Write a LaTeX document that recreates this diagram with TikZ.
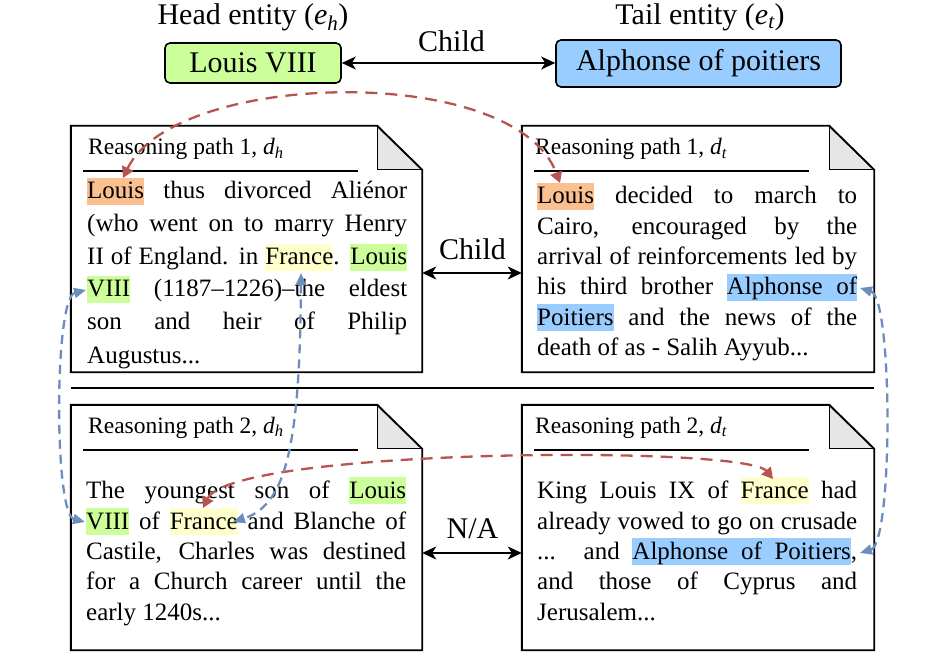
\documentclass[tikz,border=0pt]{standalone}
\usepackage{fontspec}
\setmainfont{Liberation Serif}
\usepackage{amsmath}
\usetikzlibrary{arrows.meta}
\definecolor{hlgreen}{RGB}{204,255,153}
\definecolor{hlblue}{RGB}{153,204,255}
\definecolor{hlorange}{RGB}{250,192,143}
\definecolor{hlyellow}{RGB}{255,255,204}
\definecolor{linkred}{RGB}{184,84,80}
\definecolor{linkblue}{RGB}{108,142,191}
\definecolor{foldgray}{RGB}{230,230,230}
\newcommand\hlbox[2]{{\setlength{\fboxsep}{0pt}\colorbox{#1}{\rule[-0.24em]{0pt}{1.08em}#2}}}
\newcommand\hlgap[1]{{\color{#1}\leaders\hrule height 0.84em depth 0.24em\hskip\fontdimen2\font plus\fontdimen3\font minus\fontdimen4\font}}
\newcommand\jl[1]{\makebox[320pt][s]{#1}}
\tikzset{
  txt/.style={anchor=base west, inner sep=0pt, font=\fontsize{25pt}{30pt}\selectfont},
  hdr/.style={anchor=base west, inner sep=0pt, font=\fontsize{23.5pt}{28pt}\selectfont},
  big/.style={inner sep=0pt, font=\fontsize{30pt}{36pt}\selectfont},
  entity/.style={draw, line width=1.6pt, rounded corners=5pt, inner sep=0pt, font=\fontsize{30pt}{36pt}\selectfont},
  docbox/.style={inner sep=0pt},
  docline/.style={line width=1.9pt, line join=miter},
  solidarr/.style={line width=1.5pt, {Stealth[length=14pt,width=13pt,inset=4pt]}-{Stealth[length=14pt,width=13pt,inset=4pt]}},
  redlink/.style={linkred, line width=2.3pt, dash pattern=on 12pt off 8pt, {Triangle[length=11pt,width=12pt]}-{Triangle[length=11pt,width=12pt]}},
  bluelink/.style={linkblue, line width=2.3pt, dash pattern=on 9pt off 6pt, {Triangle[length=12pt,width=10pt]}-{Triangle[length=12pt,width=10pt]}},
}
\begin{document}
\begin{tikzpicture}[x=1pt,y=-1pt]
\useasboundingbox (0,0) rectangle (945,652);
\fill[white] (0,0) rectangle (945,652);

% entities
\node[big, anchor=base] (headlbl) at (253,25) {Head entity (\textit{e}$_{\textit{h}}$)};
\node[big, anchor=base] (taillbl) at (700,25) {Tail entity (\textit{e}$_{\textit{t}}$)};
\node[entity, fill=hlgreen, minimum width=176pt, minimum height=40pt] (louis) at (253,63) {Louis VIII};
\node[entity, fill=hlblue, minimum width=285pt, minimum height=47pt] (alph) at (698.5,63.5) {Alphonse of poitiers};
\node[big, anchor=base] (childtop) at (451.5,52) {Child};
\draw[solidarr] (louis.east) -- (louis.east -| alph.west);

% documents
\node[docbox, minimum width=351pt, minimum height=246pt] (d1) at (246.5,249) {};
\node[docbox, minimum width=352pt, minimum height=246pt] (d2) at (698,249) {};
\node[docbox, minimum width=351pt, minimum height=245pt] (d3) at (246.5,527.5) {};
\node[docbox, minimum width=352pt, minimum height=245pt] (d4) at (698,527.5) {};
\foreach \d in {d1,d2,d3,d4}{
  \fill[foldgray] ([xshift=-45pt]\d.north east) -- ([yshift=-44pt]\d.north east) -- ([xshift=-45pt,yshift=-44pt]\d.north east) -- cycle;
  \draw[line width=0.7pt] ([xshift=-45pt]\d.north east) -- ([xshift=-45pt,yshift=-44pt]\d.north east) -- ([yshift=-44pt]\d.north east);
  \draw[docline] (\d.north west) -- ([xshift=-45pt]\d.north east) -- ([yshift=-44pt]\d.north east) -- (\d.south east) -- (\d.south west) -- cycle;
  \draw[line width=1.5pt] ([xshift=12.5pt,yshift=-45pt]\d.north west) -- ++(275pt,0pt);
}

% headers
\node[hdr] (h1) at (88,155) {Reasoning path 1, \textit{d}$_{\textit{h}}$};
\node[hdr] (h2) at (535,155) {Reasoning path 1, \textit{d}$_{\textit{t}}$};
\node[hdr] (h3) at (88,433) {Reasoning path 2, \textit{d}$_{\textit{h}}$};
\node[hdr] (h4) at (535,433) {Reasoning path 2, \textit{d}$_{\textit{t}}$};

% top-left text
\node[txt] (tl1) at (87,199) {\jl{\hlbox{hlorange}{Louis} thus divorced Aliénor}};
\node[txt] (tl2) at (87,232) {\jl{(who went on to marry Henry}};
\node[txt] (tl3) at (87,265) {\jl{II of England. in \hlbox{hlyellow}{France}. \hlbox{hlgreen}{Louis}}};
\node[txt] (tl4) at (87,297) {\jl{\hlbox{hlgreen}{VIII} (1187–1226)–the eldest}};
\node[txt] (tl5) at (87,330) {\jl{son and heir of Philip}};
\node[txt] (tl6) at (87,363) {Augustus...};

% top-right text
\node[txt] (tr1) at (537,204) {\jl{\hlbox{hlorange}{Louis} decided to march to}};
\node[txt] (tr2) at (537,235) {\jl{Cairo, encouraged by the}};
\node[txt] (tr3) at (537,265) {\jl{arrival of reinforcements led by}};
\node[txt] (tr4) at (537,295) {\jl{his third brother \hlbox{hlblue}{Alphonse}\hlgap{hlblue}\hlbox{hlblue}{of}}};
\node[txt] (tr5) at (537,325) {\jl{\hlbox{hlblue}{Poitiers} and the news of the}};
\node[txt] (tr6) at (537,355) {death of as - Salih Ayyub...};

% bottom-left text
\node[txt] (bl1) at (86,498) {\jl{The youngest son of \hlbox{hlgreen}{Louis}}};
\node[txt] (bl2) at (86,529) {\jl{\hlbox{hlgreen}{VIII} of \hlbox{hlyellow}{France} and Blanche of}};
\node[txt] (bl3) at (86,559) {\jl{Castile, Charles was destined}};
\node[txt] (bl4) at (86,589) {\jl{for a Church career until the}};
\node[txt] (bl5) at (86,620) {early 1240s...};

% bottom-right text
\node[txt] (br1) at (537,498) {\jl{King Louis IX of \hlbox{hlyellow}{France} had}};
\node[txt] (br2) at (537,529) {\jl{already vowed to go on crusade}};
\node[txt] (br3) at (537,559) {\jl{... and \hlbox{hlblue}{Alphonse}\hlgap{hlblue}\hlbox{hlblue}{of}\hlgap{hlblue}\hlbox{hlblue}{Poitiers},}};
\node[txt] (br4) at (537,589) {\jl{and those of Cyprus and}};
\node[txt] (br5) at (537,620) {Jerusalem...};

% middle relations
\coordinate (rowA) at (0,273);
\coordinate (rowB) at (0,553);
\node[big, anchor=base] (childmid) at (472.5,260) {Child};
\draw[solidarr] (d1.east |- rowA) -- (d2.west |- rowA);
\node[big, anchor=base] (na) at (472.5,538) {N/A};
\draw[solidarr] (d3.east |- rowB) -- (d4.west |- rowB);

% separator
\coordinate (sepy) at (0,388);
\draw[line width=1.7pt] (d1.west |- sepy) -- (d2.east |- sepy);

% dashed links
\coordinate (rA) at (123,178);
\coordinate (rB) at (560,183);
\coordinate (rC) at (203,508);
\coordinate (rD) at (773,479);
\coordinate (bA) at (86,290);
\coordinate (bB) at (85,522);
\coordinate (bC) at (301,273);
\coordinate (bD) at (233,522);
\coordinate (bE) at (860,288);
\coordinate (bF) at (860,553);
\draw[redlink] (rA) .. controls (175,70) and (515,62) .. (rB);
\draw[redlink] (rC) .. controls (232,448) and (745,445) .. (rD);
\draw[bluelink] (bA) .. controls (54,298) and (54,514) .. (bB);
\draw[bluelink] (bC) .. controls (300,450) and (285,505) .. (bD);
\draw[bluelink] (bE) .. controls (893,298) and (893,543) .. (bF);
\end{tikzpicture}
\end{document}
